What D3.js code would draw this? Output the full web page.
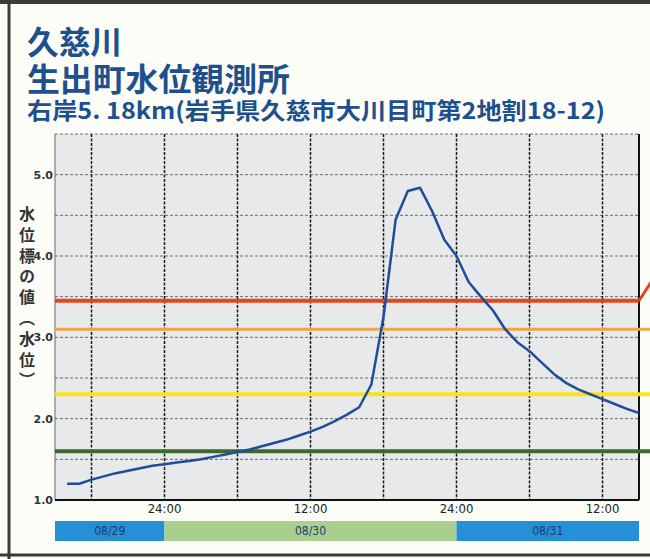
<!DOCTYPE html>
<html>
<head>
<meta charset="utf-8">
<script src="https://cdn.jsdelivr.net/npm/d3@7"></script>
<style>
body { margin: 0; background: #fdfdf8; }
svg { display: block; }
</style>
</head>
<body>
<div id="chart"></div>
<script>
// hours after 2016-08-29 15:00
var hours = [1,2,3,4,5,6,7,8,9,10,11,12,13,14,15,16,17,18,19,20,21,22,23,24,25,26,27,28,29,30,31,32,33,34,35,36,37,38,39,40,41,42,43,44,45,46,47,48];
var levels = [1.20,1.20,1.25,1.29,1.33,1.36,1.39,1.42,1.44,1.46,1.48,1.50,1.53,1.56,1.59,1.62,1.66,1.70,1.74,1.79,1.84,1.90,1.97,2.05,2.14,2.42,3.25,4.45,4.80,4.84,4.55,4.20,4.00,3.68,3.50,3.33,3.10,2.94,2.83,2.69,2.55,2.44,2.36,2.30,2.24,2.18,2.12,2.07];
var thrValues = [3.45, 3.10, 2.30, 1.60];
var thrColors = ["#e2451f", "#f2a545", "#f7e41c", "#3d6a2c"];
var thrWidths = [4, 3, 4, 4];
var yTicks = [1.0, 2.0, 3.0, 4.0, 5.0];
var dayNames = ["08/29", "08/30", "08/31"];
var dayColors = ["#2590d6", "#a9cf8e", "#2590d6"];
var titles = ["久慈川", "生出町水位観測所", "右岸5. 18km(岩手県久慈市大川目町第2地割18-12)"];
var axisTitle = "水位標の値（水位）";

var t0 = new Date(2016, 7, 29, 15);
function hourDate(h) { return new Date(t0.getTime() + h * 3600000); }

var svg = d3.select("#chart").append("svg")
    .attr("width", 650)
    .attr("height", 559);

// frame
svg.append("rect").attr("x", 0).attr("y", 0).attr("width", 650).attr("height", 559).attr("fill", "#fdfdf8");
svg.append("line").attr("x1", 0).attr("x2", 650).attr("y1", 2).attr("y2", 2).attr("stroke", "#3a3a3a").attr("stroke-width", 4);
svg.append("line").attr("x1", 9).attr("x2", 9).attr("y1", 0).attr("y2", 559).attr("stroke", "#3a3a3a").attr("stroke-width", 3);
svg.append("line").attr("x1", 0).attr("x2", 650).attr("y1", 555).attr("y2", 555).attr("stroke", "#3a3a3a").attr("stroke-width", 3);

// titles
var tY = [54, 91, 119], tSize = [32, 32, 23], tLen = [95, 263, 578];
svg.selectAll(".title")
    .data(titles)
    .enter().append("text")
    .attr("class", "title")
    .attr("x", 27)
    .attr("y", function(d, i) { return tY[i]; })
    .attr("font-family", "'Noto Sans CJK JP', sans-serif")
    .attr("font-weight", "bold")
    .attr("font-size", function(d, i) { return tSize[i]; })
    .attr("textLength", function(d, i) { return tLen[i]; })
    .attr("lengthAdjust", "spacingAndGlyphs")
    .attr("fill", "#1e4f8e")
    .text(function(d) { return d; });

var x = d3.scaleTime()
    .domain([t0, hourDate(48)])
    .range([55, 639]);
var y = d3.scaleLinear()
    .domain([1, 5.5])
    .range([500, 134]);

// plot background
svg.append("rect")
    .attr("x", x.range()[0]).attr("y", y(5.5))
    .attr("width", x.range()[1] - x.range()[0])
    .attr("height", y(1) - y(5.5))
    .attr("fill", "#e7e9eb");

// horizontal grid
svg.selectAll(".hgrid")
    .data(d3.range(1.5, 5.51, 0.5))
    .enter().append("line")
    .attr("class", "hgrid")
    .attr("x1", x.range()[0]).attr("x2", x.range()[1])
    .attr("y1", function(d) { return y(d); })
    .attr("y2", function(d) { return y(d); })
    .attr("stroke", "#6c6c6c")
    .attr("stroke-width", 1)
    .attr("stroke-dasharray", "3,2");

// vertical grid every 6 hours
var vTicks = x.ticks(d3.timeHour.every(6)).filter(function(d) { return d > t0 && d < hourDate(48); });
svg.selectAll(".vgrid")
    .data(vTicks)
    .enter().append("line")
    .attr("class", "vgrid")
    .attr("x1", function(d) { return x(d); })
    .attr("x2", function(d) { return x(d); })
    .attr("y1", y(5.5)).attr("y2", y(1))
    .attr("stroke", "#1a1a1a")
    .attr("stroke-width", 1.5)
    .attr("stroke-dasharray", "3,1.5");

// plot borders
svg.append("line").attr("x1", x.range()[0]).attr("x2", x.range()[0]).attr("y1", y(5.5)).attr("y2", y(1)).attr("stroke", "#666").attr("stroke-width", 1);
svg.append("line").attr("x1", x.range()[1]).attr("x2", x.range()[1]).attr("y1", y(5.5)).attr("y2", y(1)).attr("stroke", "#111").attr("stroke-width", 2);
svg.append("line").attr("x1", x.range()[0]).attr("x2", x.range()[1]).attr("y1", y(1)).attr("y2", y(1)).attr("stroke", "#111").attr("stroke-width", 2);

// y tick labels
svg.selectAll(".ylab")
    .data(yTicks)
    .enter().append("text")
    .attr("class", "ylab")
    .attr("x", x.range()[0] - 2)
    .attr("y", function(d) { return y(d) + 4; })
    .attr("text-anchor", "end")
    .attr("font-family", "'DejaVu Sans', sans-serif")
    .attr("font-weight", "bold")
    .attr("font-size", 11)
    .attr("fill", "#333")
    .text(function(d) { return d.toFixed(1); });

// y axis title, vertical writing
svg.append("text")
    .attr("x", 27)
    .attr("y", 206)
    .attr("writing-mode", "vertical-rl")
    .attr("letter-spacing", 4.8)
    .attr("font-family", "'Noto Sans CJK JP', sans-serif")
    .attr("font-weight", "bold")
    .attr("font-size", 16)
    .attr("fill", "#333")
    .text(axisTitle);

// x tick labels at 00:00 and 12:00
svg.selectAll(".xlab")
    .data(vTicks.filter(function(d) { return d.getHours() % 12 === 0; }))
    .enter().append("text")
    .attr("class", "xlab")
    .attr("x", function(d) { return x(d); })
    .attr("y", 513)
    .attr("text-anchor", "middle")
    .attr("font-family", "'DejaVu Sans Condensed', 'DejaVu Sans', sans-serif")
    .attr("font-size", 13)
    .attr("fill", "#222")
    .text(function(d) { return d.getHours() === 0 ? "24:00" : "12:00"; });

// date bar
var days = dayNames.map(function(n, i) {
    var s = i === 0 ? t0 : new Date(2016, 7, 29 + i);
    var e = i === dayNames.length - 1 ? hourDate(48) : new Date(2016, 7, 30 + i);
    return {name: n, start: s, end: e, color: dayColors[i]};
});
svg.selectAll(".day")
    .data(days)
    .enter().append("rect")
    .attr("class", "day")
    .attr("x", function(d) { return x(d.start); })
    .attr("width", function(d) { return x(d.end) - x(d.start); })
    .attr("y", 521).attr("height", 20)
    .attr("fill", function(d) { return d.color; });
svg.selectAll(".daylab")
    .data(days)
    .enter().append("text")
    .attr("class", "daylab")
    .attr("x", function(d) { return (x(d.start) + x(d.end)) / 2; })
    .attr("y", 535)
    .attr("text-anchor", "middle")
    .attr("font-family", "'DejaVu Sans Condensed', 'DejaVu Sans', sans-serif")
    .attr("font-size", 12)
    .attr("fill", "#1e3a6e")
    .text(function(d) { return d.name; });

// threshold lines
svg.selectAll(".thr")
    .data(thrValues)
    .enter().append("line")
    .attr("class", "thr")
    .attr("x1", x.range()[0])
    .attr("x2", function(d, i) { return i === 0 ? x.range()[1] : 650; })
    .attr("y1", function(d) { return y(d); })
    .attr("y2", function(d) { return y(d); })
    .attr("stroke", function(d, i) { return thrColors[i]; })
    .attr("stroke-width", function(d, i) { return thrWidths[i]; });
svg.append("line")
    .attr("x1", x.range()[1]).attr("y1", y(thrValues[0]))
    .attr("x2", 652).attr("y2", y(thrValues[0]) - 20)
    .attr("stroke", thrColors[0]).attr("stroke-width", 3);

// water level line
var data = hours.map(function(h, i) { return {t: hourDate(h), v: levels[i]}; });
var line = d3.line()
    .x(function(d) { return x(d.t); })
    .y(function(d) { return y(d.v); });
svg.append("path")
    .datum(data)
    .attr("d", line)
    .attr("fill", "none")
    .attr("stroke", "#1f4d9a")
    .attr("stroke-width", 2.5)
    .attr("stroke-linejoin", "round");
</script>
</body>
</html>
